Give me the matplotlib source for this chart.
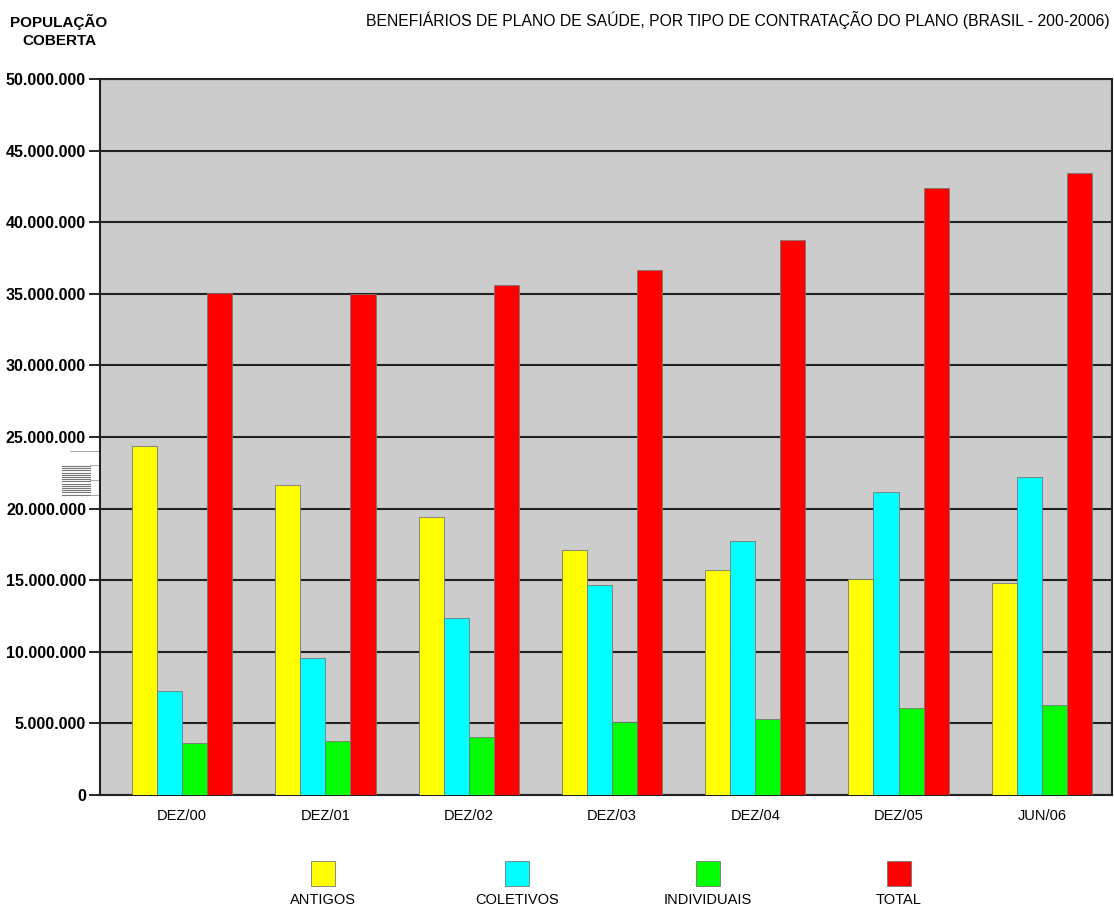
import numpy as np
import matplotlib.pyplot as plt
from matplotlib.patches import Rectangle
from matplotlib.lines import Line2D
from matplotlib.ticker import FuncFormatter

periodos = ["DEZ/00", "DEZ/01", "DEZ/02", "DEZ/03", "DEZ/04", "DEZ/05", "JUN/06"]
antigos = [24.37e6, 21.65e6, 19.41e6, 17.10e6, 15.71e6, 15.08e6, 14.80e6]
coletivos = [7.26e6, 9.57e6, 12.36e6, 14.66e6, 17.74e6, 21.16e6, 22.20e6]
individuais = [3.63e6, 3.77e6, 4.05e6, 5.10e6, 5.31e6, 6.08e6, 6.28e6]
total = [35.06e6, 35.02e6, 35.60e6, 36.66e6, 38.76e6, 42.39e6, 43.44e6]

series = {"ANTIGOS": (antigos, "#ffff00"),
          "COLETIVOS": (coletivos, "#00ffff"),
          "INDIVIDUAIS": (individuais, "#00ff00"),
          "TOTAL": (total, "#ff0000")}

W, H = 1114, 908
fig = plt.figure(figsize=(W / 100, H / 100), dpi=100)
ax = fig.add_axes([100 / W, 1 - 795 / H, 1012 / W, 716 / H])
ax.set_facecolor("#cccccc")

x = np.arange(len(periodos))
largura = 0.175
for i, (nome, (vals, cor)) in enumerate(series.items()):
    ax.bar(x + (i - 1.5) * largura, vals, largura, color=cor,
           edgecolor="#777777", linewidth=0.6, zorder=3)

ax.set_ylim(0, 50e6)
ax.set_xlim(-0.573, 6.49)
ax.set_yticks(np.arange(0, 50e6 + 1, 5e6))
ax.yaxis.set_major_formatter(FuncFormatter(lambda v, p: f"{int(v):,}".replace(",", ".")))
ax.set_xticks(x)
ax.set_xticklabels(periodos, fontsize=10.5, family="Liberation Sans")
for lbl in ax.get_yticklabels():
    lbl.set_fontfamily("Liberation Sans")
    lbl.set_fontweight("bold")
    lbl.set_fontsize(11.5)
ax.tick_params(axis="y", length=8, width=1.2, pad=2)
ax.tick_params(axis="x", length=0, pad=10)
ax.grid(axis="y", color="#222222", linewidth=1.5, zorder=1)
for s in ax.spines.values():
    s.set_color("#222222")
    s.set_linewidth(1.5)

fig.text(59 / W, 1 - 31 / H, "POPULAÇÃO\nCOBERTA", ha="center", va="center",
         fontsize=11, fontweight="bold", family="Liberation Sans", linespacing=1.3)
fig.text(1110 / W, 1 - 20 / H,
         "BENEFIÁRIOS DE PLANO DE SAÚDE, POR TIPO DE CONTRATAÇÃO DO PLANO (BRASIL - 200-2006)",
         ha="right", va="center", fontsize=11.3, family="Liberation Sans")

# legenda com quadrados e rótulos em baixo
centros = [323, 517, 708, 899]
for cx, (nome, (vals, cor)) in zip(centros, series.items()):
    fig.add_artist(Rectangle(((cx - 12) / W, 1 - 886 / H), 24 / W, 25 / H,
                             facecolor=cor, edgecolor="#777777", linewidth=0.6,
                             transform=fig.transFigure))
    fig.text(cx / W, 1 - 900 / H, nome, ha="center", va="center",
             fontsize=10.5, family="Liberation Sans")

# pequeno ícone listrado à esquerda
for yy in np.arange(466, 495, 2.2):
    fig.add_artist(Line2D([62 / W, 90 / W], [1 - yy / H] * 2, color="#777777",
                          linewidth=0.8, transform=fig.transFigure))
fig.add_artist(Line2D([70 / W, 98 / W], [1 - 451 / H] * 2, color="#999999",
                      linewidth=0.6, transform=fig.transFigure))
for yy in [465, 480, 495]:
    fig.add_artist(Line2D([90 / W, 98 / W], [1 - yy / H] * 2, color="#999999",
                          linewidth=0.6, transform=fig.transFigure))

fig.savefig("out.png", dpi=100)
